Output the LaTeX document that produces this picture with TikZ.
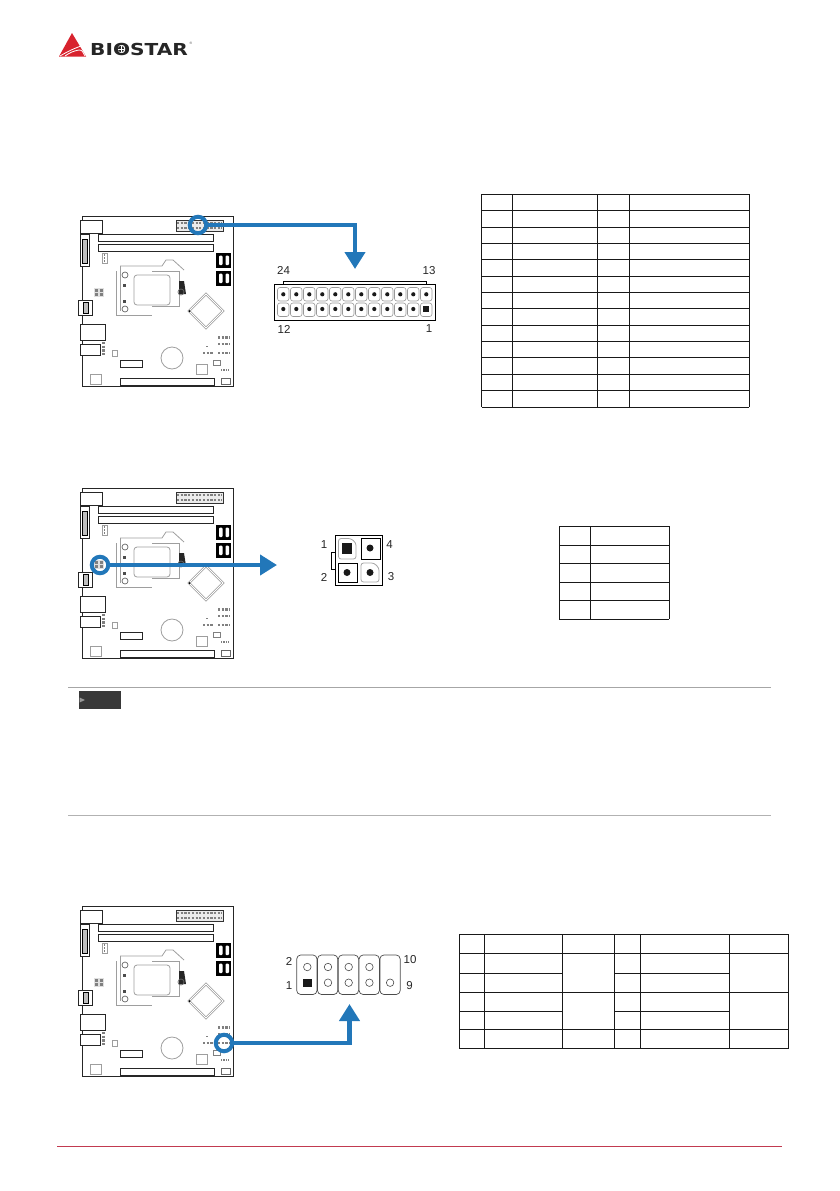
\documentclass[tikz,border=0pt]{standalone}
\usepackage{fontspec}
\setmainfont{Liberation Sans}
\newfontfamily\logofont{DejaVu Sans}
\usetikzlibrary{arrows.meta}
\definecolor{bluearrow}{HTML}{2277B9}
\definecolor{logored}{HTML}{D8232E}
\definecolor{footred}{HTML}{C23A50}
\tikzset{
	tablerule/.style={line width=0.9pt, black!90},
	boardline/.style={line width=0.95pt, black!85},
	socketline/.style={line width=0.8pt, black!38},
	pinrow/.style={line width=2.2pt, black!50, dash pattern=on 2.2pt off 1.5pt},
	pinbox/.style={draw=black!40, line width=0.6pt, rounded corners=2.5pt},
	pinframe/.style={draw=black, line width=1pt},
	pinhole/.style={circle, fill=black!90, inner sep=0pt, minimum size=#1},
	pinring/.style={circle, draw=black!70, line width=0.6pt, inner sep=0pt, minimum size=7.5pt},
	pinlabel/.style={font=\fontsize{11.5}{12}\selectfont, text=black!85, inner sep=0pt},
	ringmark/.style={circle, draw=bluearrow, line width=4pt, inner sep=0pt, minimum size=16.5pt},
	bigarrow/.style={draw=bluearrow, line width=4.2pt, -{Triangle[width=20pt,length=17pt,fill=bluearrow]}},
}
% board drawing, #1 #2 = top left corner
\newcommand{\mainboard}[2]{
	\begin{scope}[shift={(#1,#2)}]
		\draw[boardline] (0,0) rectangle (151,170.5);
		% rear panel and slots
		\draw[boardline, fill=white] (-2,4) rectangle (20,17);
		\draw[boardline] (16,18) rectangle (131,25);
		\draw[boardline] (16,28) rectangle (131,35);
		\draw[boardline, fill=white] (-2,18) rectangle (7,50);
		\draw[line width=0.6pt, fill=black!25] (0,23) rectangle (5,47);
		\draw[boardline, fill=white] (-4,84) rectangle (10,99);
		\draw[line width=0.6pt, fill=black!25] (1,86) rectangle (6,97);
		\draw[boardline, fill=white] (-2,108) rectangle (23,124);
		\draw[boardline, fill=white] (-2,128) rectangle (18,139);
		\draw[boardline] (38,144) rectangle (60,151);
		\draw[boardline] (38,162) rectangle (132,169);
		% top header
		\draw[line width=1pt, black!80, fill=black!8] (94,4) rectangle (141,15);
		\draw[pinrow] (95,7.3) -- (140,7.3);
		\draw[pinrow] (95,11.7) -- (140,11.7);
		% sata
		\foreach \y in {37,55} {
			\fill[black] (134,\y) rectangle (149,\y+14.5);
			\fill[white, rounded corners=1pt] (137,\y+2.5) rectangle (140.5,\y+12);
			\fill[white, rounded corners=1pt] (143.5,\y+2.5) rectangle (147,\y+12);
		}
		\draw[socketline] (20,37) rectangle (25,47);
		\draw[pinrow, line width=1.5pt, dash pattern=on 1.5pt off 1.5pt] (22.5,38) -- (22.5,46);
		% socket
		\draw[socketline] (38,50) -- (80,50) -- (84,44) -- (91,44) -- (102,54);
		\draw[socketline] (34,55) -- (34,99) -- (70,99);
		\draw[socketline] (38,50) -- (38,95);
		\draw[socketline, rounded corners=3pt] (52,59) rectangle (88,89);
		\draw[socketline] (70,55) -- (97,55) -- (97,90) -- (70,90);
		\fill[black!85] (97,65) -- (102,65) -- (104,78) -- (97,78) -- cycle;
		\draw[line width=0.7pt, black!60] (43,59) circle (3);
		\draw[line width=0.7pt, black!60] (43,93) circle (3);
		\draw[line width=0.7pt, black!60] (99,76) circle (3);
		\fill[black!70] (41,68) rectangle (44,71);
		\fill[black!70] (41,84) rectangle (44,87);
		% chip
		\draw[line width=0.7pt, black!40, double=white, double distance=1pt] (124,78) -- (141,95) -- (124,112) -- (107,95) -- cycle;
		\fill[black] (107.5,95) circle (1);
		% small parts
		\fill[black!12] (12,72) rectangle (22,81);
		\draw[pinrow, line width=2.8pt, dash pattern=on 3pt off 1.5pt] (13,74.5) -- (22,74.5);
		\draw[pinrow, line width=2.8pt, dash pattern=on 3pt off 1.5pt] (13,78.8) -- (22,78.8);
		\draw[pinrow] (21.5,126) -- (21.5,139);
		\draw[socketline] (30,134) rectangle (35,140);
		\draw[socketline] (90,142) circle (11);
		\draw[socketline] (8,158) rectangle (19,168);
		\draw[socketline] (114,148) rectangle (125,158);
		\draw[line width=0.6pt, black!60] (139,162) rectangle (148,168);
		\draw[pinrow] (136,121.5) -- (148,121.5);
		\draw[pinrow] (136,128) -- (148,128);
		\draw[pinrow] (136,137) -- (148,137);
		\draw[pinrow] (121,137) -- (132,137);
		\draw[pinrow, line width=1.2pt] (124,130.5) -- (127,130.5);
		\draw[line width=0.5pt, black!50] (131,144) rectangle (138,149);
		\draw[pinrow, line width=1.2pt, dash pattern=on 1.2pt off 1.2pt] (139,154) -- (147,154);
	\end{scope}
}

\begin{document}
\begin{tikzpicture}[x=1pt,y=-1pt]
	\useasboundingbox (0,0) rectangle (839,1191);

	% logo
	\fill[logored] (72,33) -- (86,56.5) -- (59,56.5) -- cycle;
	\draw[white, line width=0.8pt] (60,56) to[out = 30, in = 200] (81,46);
	\draw[white, line width=0.8pt] (65,56) to[out = 35, in = 190] (79,50) to[out = 10, in = 120] (85,56);
	\node[inner sep=0pt, anchor=west, xscale=1.22, text=black!85] (logotext) at (90,49) {\logofont\bfseries\fontsize{16.5}{17}\selectfont BIOSTAR};
	\fill[black!85] (121,49) circle (3.2);
	\draw[white, line width=0.7pt] (118,49) -- (124,49);
	\draw[white, line width=0.7pt] (121,46) -- (121,52);
	\node[inner sep=0pt, text=black!70] (logoreg) at (191,43.5) {\fontsize{3.5}{4}\selectfont ®};

	% footer and note rules
	\draw[footred, line width=0.9pt] (57,1146.5) -- (782,1146.5);
	\draw[black!35, line width=1.6pt] (68,687.5) -- (771,687.5);
	\draw[black!30, line width=0.8pt] (68,815.5) -- (771,815.5);
	\fill[black!78] (79,691) rectangle (121,709);
	\fill[black!40] (79.5,697.5) -- (85,700) -- (79.5,702.5) -- cycle;

	\mainboard{82}{216}
	\mainboard{82}{488}
	\mainboard{82}{906}

	% first connector
	\node[ringmark] (ringatx) at (198,225) {};
	\coordinate (tipatx) at (355,269);
	\draw[bigarrow] (ringatx.east) -| (tipatx);
	\draw[pinframe] (283,284) -- (283,281) -- (426.5,281) -- (426.5,284);
	\draw[pinframe, fill=white] (274.5,284) rectangle (435.5,320);
	\foreach \i in {0,...,11} {
		\draw[pinbox] (277.5+\i*13,287.5) rectangle (289+\i*13,301);
		\draw[pinbox] (277.5+\i*13,303) rectangle (289+\i*13,316.5);
		\node[pinhole=4.2pt] (atxtop\i) at (283.3+\i*13,294.3) {};
		\ifnum\i<11
			\node[pinhole=4.2pt] (atxlow\i) at (283.3+\i*13,309) {};
		\fi
	}
	\fill[black!90] (423,306) rectangle (429,312);
	\node[pinlabel] (atx24) at (283.5,270.5) {24};
	\node[pinlabel] (atx13) at (429,270.5) {13};
	\node[pinlabel] (atx12) at (284,329) {12};
	\node[pinlabel] (atx1) at (429,329) {1};

	% second connector
	\node[ringmark] (ringfour) at (100,565) {};
	\coordinate (tipfour) at (277,565);
	\draw[bigarrow] (ringfour.east) -- (tipfour);
	\draw[pinframe] (335.5,552) -- (331,552) -- (331,569) -- (335.5,569);
	\draw[pinframe] (335.5,535) rectangle (382.5,585.5);
	\draw[pinbox, draw=black!35, line width=0.8pt] (338.5,538.5) -- (351,538.5) -- (356,543) -- (356,559) -- (338.5,559) -- cycle;
	\fill[black!90] (342,543) rectangle (352,554);
	\draw[pinframe] (361,538.5) rectangle (380,559);
	\node[pinhole=7pt] (fourpin4) at (370,548) {};
	\draw[pinframe] (338.5,563) rectangle (357,582);
	\node[pinhole=7pt] (fourpin2) at (347,572.5) {};
	\draw[pinbox, draw=black!35, line width=0.8pt] (361,563) -- (374,563) -- (379,568) -- (379,582) -- (361,582) -- cycle;
	\node[pinhole=7pt] (fourpin3) at (370,572.5) {};
	\node[pinlabel] (four1) at (324,545) {1};
	\node[pinlabel] (four4) at (389.5,545) {4};
	\node[pinlabel] (four2) at (324,577) {2};
	\node[pinlabel] (four3) at (391,577) {3};

	% third connector
	\node[ringmark] (ringfp) at (224,1043) {};
	\coordinate (tipfp) at (349.5,1004);
	\draw[bigarrow] (ringfp.east) -| (tipfp);
	\foreach \i in {0,...,4}
		\draw[draw=black!70, line width=0.7pt, rounded corners=4pt] (296.7+\i*20.8,955) rectangle (317+\i*20.8,994.5);
	\foreach \i in {0,...,3}
		\node[pinring] (fptop\i) at (307.3+\i*20.7,967) {};
	\foreach \i in {1,...,4}
		\node[pinring] (fplow\i) at (307.3+\i*20.7,982.7) {};
	\fill[black!90] (303.3,979) rectangle (312,987);
	\node[pinlabel] (fp2) at (289,961) {2};
	\node[pinlabel] (fp1) at (289,986) {1};
	\node[pinlabel] (fp10) at (410,960) {10};
	\node[pinlabel] (fp9) at (409.5,986) {9};

	% tables
	\foreach \y in {0,...,13}
		\draw[tablerule] (481.7,194.3+\y*16.36) -- (749,194.3+\y*16.36);
	\foreach \x in {481.7,512.7,597.3,629.3,749}
		\draw[tablerule] (\x,194.3) -- (\x,407);

	\foreach \y in {526,545,563,582,600,619}
		\draw[tablerule] (559,\y) -- (669,\y);
	\foreach \x in {559,590,669}
		\draw[tablerule] (\x,526) -- (\x,619);

	\foreach \y in {934.3,953.3,992.3,1029.7,1048.7}
		\draw[tablerule] (459.3,\y) -- (788.3,\y);
	\foreach \y in {973.3,1011.3} {
		\draw[tablerule] (459.3,\y) -- (562.3,\y);
		\draw[tablerule] (614.3,\y) -- (729.3,\y);
	}
	\foreach \x in {459.3,484.3,562.3,614.3,640.3,729.3,788.3}
		\draw[tablerule] (\x,934.3) -- (\x,1048.7);
\end{tikzpicture}
\end{document}
